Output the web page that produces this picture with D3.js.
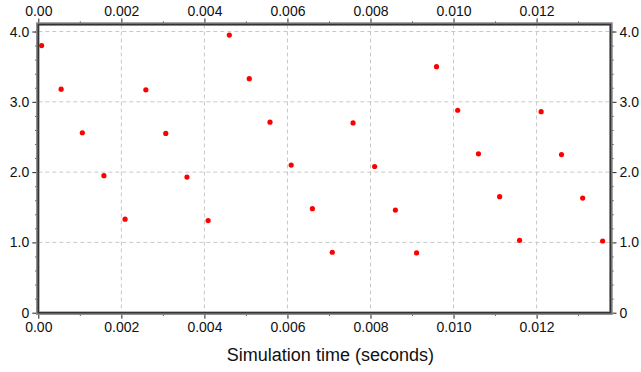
<!DOCTYPE html>
<html>
<head>
<meta charset="utf-8">
<script src="https://cdn.jsdelivr.net/npm/d3@7"></script>
<style>
  body { margin: 0; background: #fff; }
  svg { display: block; font-family: "Liberation Sans", Arial, sans-serif; }
</style>
</head>
<body>
<svg id="chart" width="641" height="372"></svg>
<script>
// simulation samples
const times = [0.00008, 0.00055, 0.00106, 0.00158, 0.00209, 0.00259, 0.00307, 0.00358, 0.00409, 0.00460,
               0.00508, 0.00558, 0.00609, 0.00660, 0.00708, 0.00758, 0.00810, 0.00860, 0.00911, 0.00959,
               0.01010, 0.01060, 0.01111, 0.01159, 0.01211, 0.01260, 0.01311, 0.01359];
const values = [3.80, 3.18, 2.56, 1.95, 1.33, 3.17, 2.55, 1.93, 1.31, 3.95,
                3.33, 2.71, 2.10, 1.48, 0.86, 2.70, 2.08, 1.46, 0.85, 3.50,
                2.88, 2.26, 1.65, 1.03, 2.86, 2.25, 1.63, 1.02];

const xMajor = [0, 0.002, 0.004, 0.006, 0.008, 0.010, 0.012];
const xMinor = [0.001, 0.003, 0.005, 0.007, 0.009, 0.011, 0.013];
const yMajor = [0, 1, 2, 3, 4];
const yMinor = [0.2, 0.4, 0.6, 0.8, 1.2, 1.4, 1.6, 1.8, 2.2, 2.4, 2.6, 2.8, 3.2, 3.4, 3.6, 3.8, 4.0];
const xTitle = "Simulation time (seconds)";

const width = 641, height = 372;
const margin = {top: 24.5, right: 30.5, bottom: 59.3, left: 38.3};
const innerW = width - margin.left - margin.right;
const innerH = height - margin.top - margin.bottom;

const svg = d3.select("#chart");
const g = svg.append("g").attr("transform", `translate(${margin.left},${margin.top})`);

const x = d3.scaleLinear().domain([0, 0.01378]).range([0, innerW]);
const y = d3.scaleLinear().domain([0, 4.1]).range([innerH, 0]);

const fmtX = d => d === 0 ? "0.00" : d3.format(".3f")(d);
const fmtY = d => d === 0 ? "0" : d3.format(".1f")(d);

// dashed grid
g.append("g").selectAll("line").data(xMajor.filter(d => d > 0)).join("line")
    .attr("x1", d => x(d)).attr("x2", d => x(d))
    .attr("y1", 0).attr("y2", innerH)
    .attr("stroke", "#c8c8c8").attr("stroke-dasharray", "4,3");
g.append("g").selectAll("line").data(yMajor.filter(d => d > 0)).join("line")
    .attr("x1", 0).attr("x2", innerW)
    .attr("y1", d => y(d)).attr("y2", d => y(d))
    .attr("stroke", "#c8c8c8").attr("stroke-dasharray", "4,3");

// axes: major ticks with labels, minor ticks without
function addAxis(axisFn, scale, major, minor, fmt, transform) {
    const a = g.append("g").attr("transform", transform);
    a.append("g").call(axisFn(scale).tickValues(minor).tickSize(3).tickFormat(""));
    a.append("g").call(axisFn(scale).tickValues(major).tickSize(6).tickPadding(3).tickFormat(fmt));
    a.selectAll(".domain").remove();
    a.selectAll("line").attr("stroke", "#222");
    a.selectAll("text").attr("font-size", 14).attr("fill", "#111")
        .attr("font-family", "'Liberation Sans', Arial, sans-serif");
    return a;
}
addAxis(d3.axisBottom, x, xMajor, xMinor, fmtX, `translate(0,${innerH})`);
addAxis(d3.axisTop, x, xMajor, xMinor, fmtX, "translate(0,0)");
addAxis(d3.axisLeft, y, yMajor, yMinor, fmtY, "translate(0,0)");
addAxis(d3.axisRight, y, yMajor, yMinor, fmtY, `translate(${innerW},0)`);

// thick frame
g.append("rect").attr("x", -0.5).attr("y", -0.5).attr("width", innerW + 1).attr("height", innerH + 1)
    .attr("fill", "none").attr("stroke", "#8a8a8a").attr("stroke-width", 3.5);
g.append("rect").attr("x", 0).attr("y", 0).attr("width", innerW).attr("height", innerH)
    .attr("fill", "none").attr("stroke", "#333").attr("stroke-width", 1.5);

// points
g.append("g").selectAll("circle").data(times).join("circle")
    .attr("cx", d => x(d))
    .attr("cy", (d, i) => y(values[i]))
    .attr("r", 2.6)
    .attr("fill", "#ff0000");

// x title
svg.append("text")
    .attr("x", margin.left + innerW / 2 + 6)
    .attr("y", 361)
    .attr("text-anchor", "middle")
    .attr("font-size", 18)
    .attr("fill", "#111")
    .text(xTitle);
</script>
</body>
</html>
